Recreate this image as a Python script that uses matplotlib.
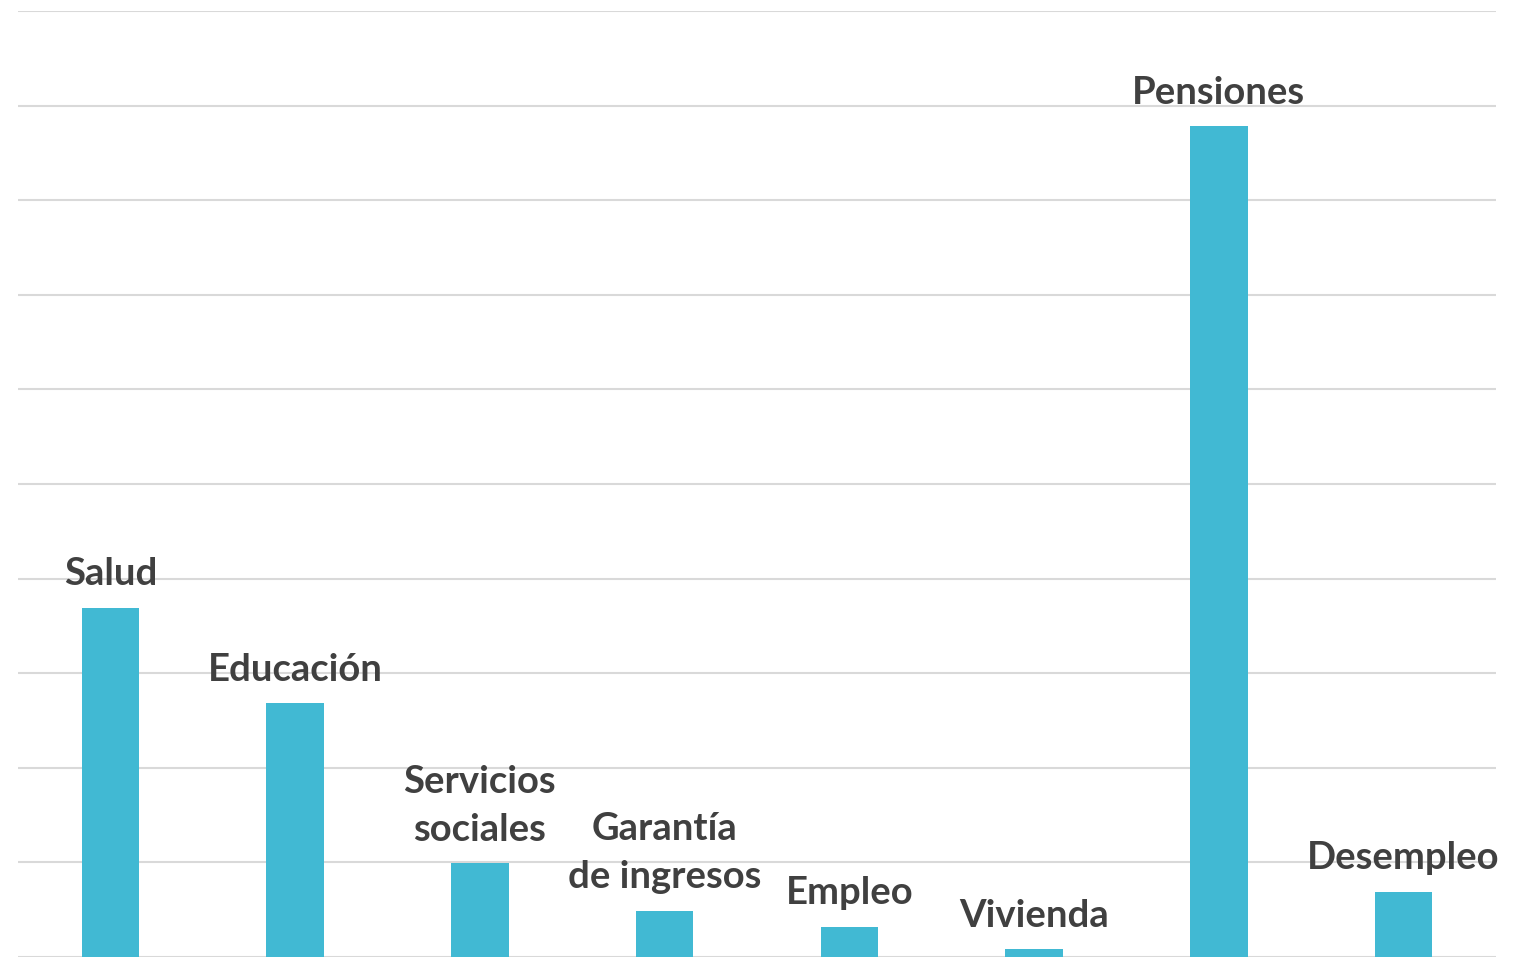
import matplotlib.pyplot as plt

categorias = ["Salud", "Educación", "Servicios\nsociales", "Garantía\nde ingresos",
              "Empleo", "Vivienda", "Pensiones", "Desempleo"]
valores = [3.69, 2.68, 0.99, 0.49, 0.32, 0.08, 8.78, 0.69]

plt.rcParams['font.family'] = ['Lato', 'DejaVu Sans']

fig = plt.figure(figsize=(15.25, 9.58), dpi=100)
ax = fig.add_axes([18 / 1525, 1 / 958, 1478 / 1525, 946 / 958])

x = range(len(categorias))
bars = ax.bar(x, valores, width=0.31, color="#41b9d3", zorder=3)

for b, lab in zip(bars, categorias):
    ax.annotate(lab, (b.get_x() + b.get_width() / 2, b.get_height()),
                xytext=(0, 12), textcoords="offset points",
                ha="center", va="bottom", fontsize=27.5, fontweight="bold",
                color="#404040", linespacing=1.5, zorder=4)

ax.set_xlim(-0.5, len(categorias) - 0.5)
ax.set_ylim(0, 10)
ax.set_yticks(range(0, 11))
ax.grid(axis="y", color="#d9d9d9", linewidth=1.5, zorder=0)
ax.tick_params(left=False, bottom=False, labelleft=False, labelbottom=False)
for s in ax.spines.values():
    s.set_visible(False)

fig.savefig("out.png", dpi=100)
